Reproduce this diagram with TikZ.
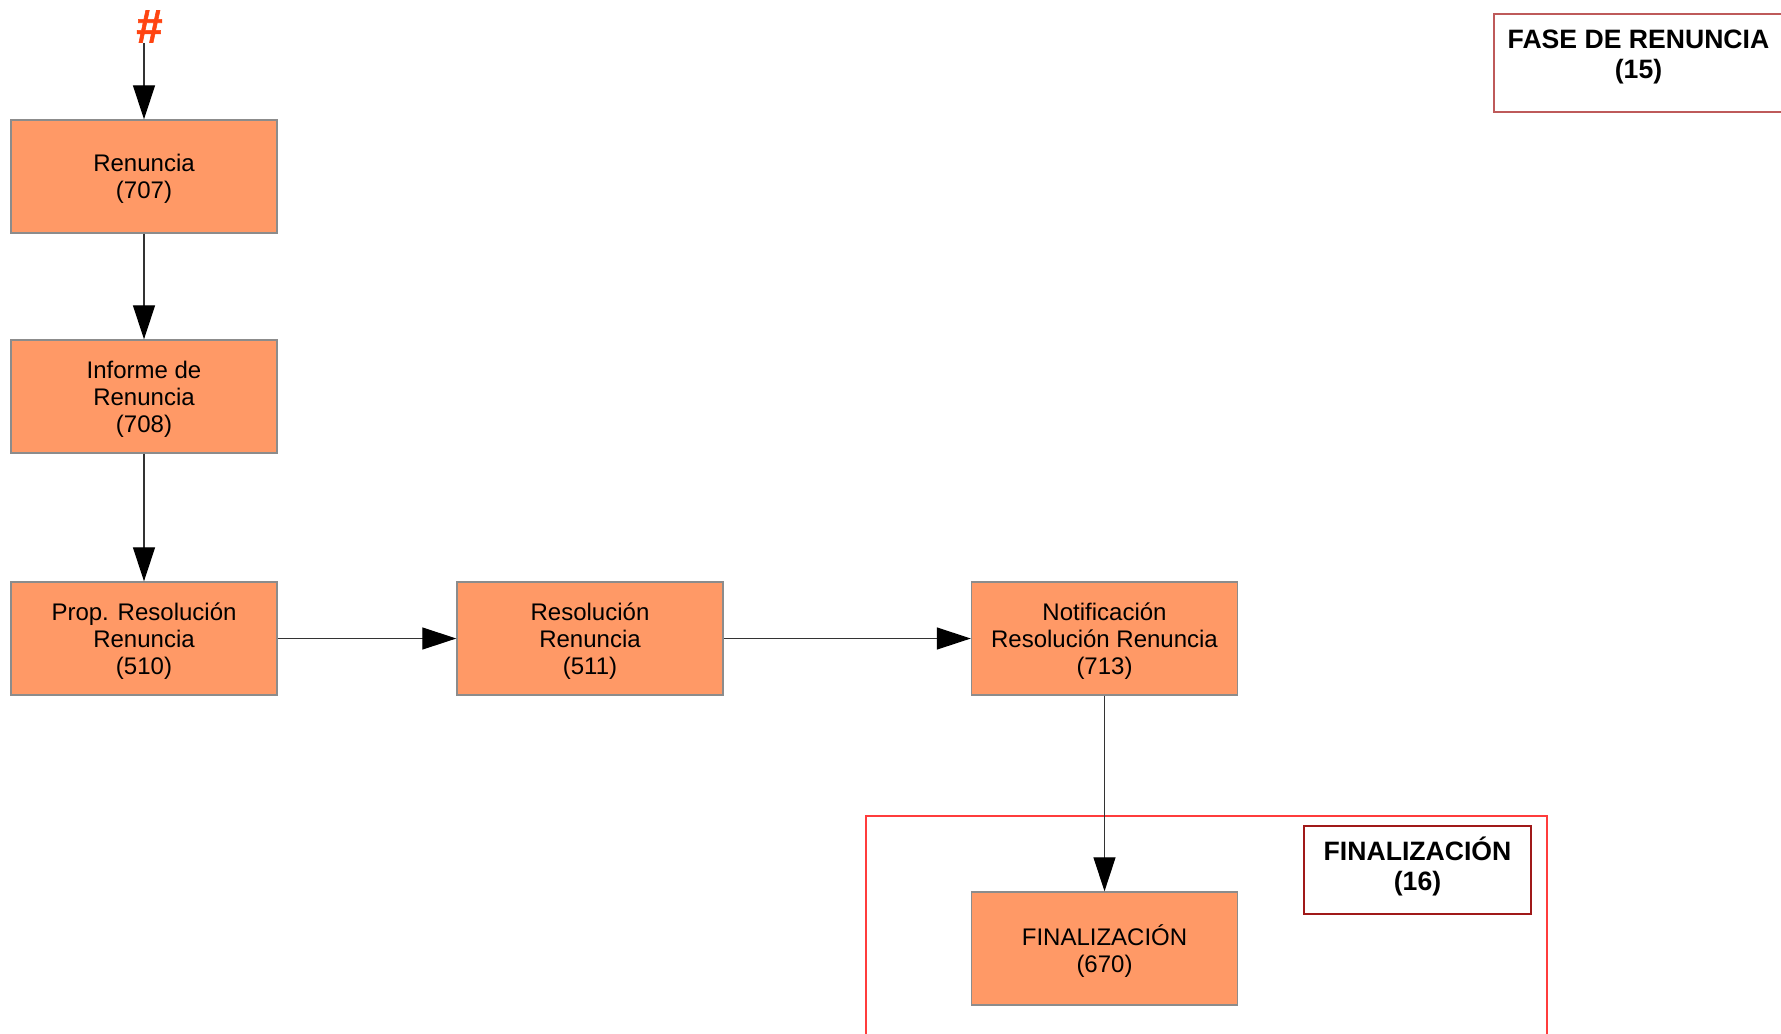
\documentclass[tikz,border=0pt]{standalone}
\usepackage{fontspec}
\setmainfont{Liberation Sans}
\usetikzlibrary{arrows.meta}
\definecolor{naranja}{RGB}{255,153,102}
\definecolor{bordegris}{RGB}{140,140,140}
\definecolor{rojomarco}{RGB}{255,60,60}
\definecolor{rojofase}{RGB}{190,90,90}
\definecolor{rojofin}{RGB}{160,25,25}
\definecolor{almohadilla}{RGB}{255,68,17}
\begin{document}
\begin{tikzpicture}[x=0.5pt, y=-0.5pt,
    caja/.style={draw=bordegris, line width=0.7pt, fill=naranja, minimum width=133pt, minimum height=56.5pt, align=center, inner sep=2pt, text depth=0pt, font=\fontsize{12}{13.6}\selectfont},
    flecha/.style={-{Triangle[length=17pt, width=11pt, color=black]}, line width=0.6pt, draw=black!80},
    titulo/.style={align=center, font=\fontsize{13.3}{15.3}\selectfont\bfseries},
    etiqueta/.style={titulo, line width=0.7pt, inner sep=0pt}]
    \useasboundingbox (0,0) rectangle (1781,1033);
    \clip (0,0) rectangle (1781,1033);

    \node (inicio) [anchor=base, inner sep=0pt, text=almohadilla, font=\fontsize{23.5}{23.5}\selectfont\bfseries\addfontfeature{FakeBold=1.2}] at (149.5,42.5) {\#};
    \node (ren707) [caja] at (144,176.5) {Renuncia\\(707)};
    \node (inf708) [caja] at (144,396.5) {Informe de\\Renuncia\\(708)};
    \node (prop510) [caja] at (144,638.5) {Prop. Resolución\\Renuncia\\(510)};
    \node (res511) [caja] at (590,638.5) {Resolución\\Renuncia\\(511)};
    \node (not713) [caja] at (1104.5,638.5) {Notificación\\Resolución Renuncia\\(713)};
    \node (fin670) [caja] at (1104.5,948.5) {FINALIZACIÓN\\(670)};

    \draw[rojomarco, line width=0.6pt] (866,816) rectangle (1547,1060);
    \node (fin16) [etiqueta, draw=rojofin, minimum width=113.5pt, minimum height=44pt, label={[titulo, yshift=1.7pt]center:{FINALIZACIÓN\\(16)}}] at (1417.5,870) {};
    \node (fase15) [etiqueta, draw=rojofase, minimum width=144.5pt, minimum height=49pt, label={[titulo, yshift=3pt]center:{FASE DE RENUNCIA\\(15)}}] at (1638.5,63) {};

    \draw[flecha] (inicio.south -| ren707.north) -- (ren707);
    \draw[flecha] (ren707) -- (inf708);
    \draw[flecha] (inf708) -- (prop510);
    \draw[flecha] (prop510) -- (res511);
    \draw[flecha] (res511) -- (not713);
    \draw[flecha] (not713) -- (fin670);
\end{tikzpicture}
\end{document}
